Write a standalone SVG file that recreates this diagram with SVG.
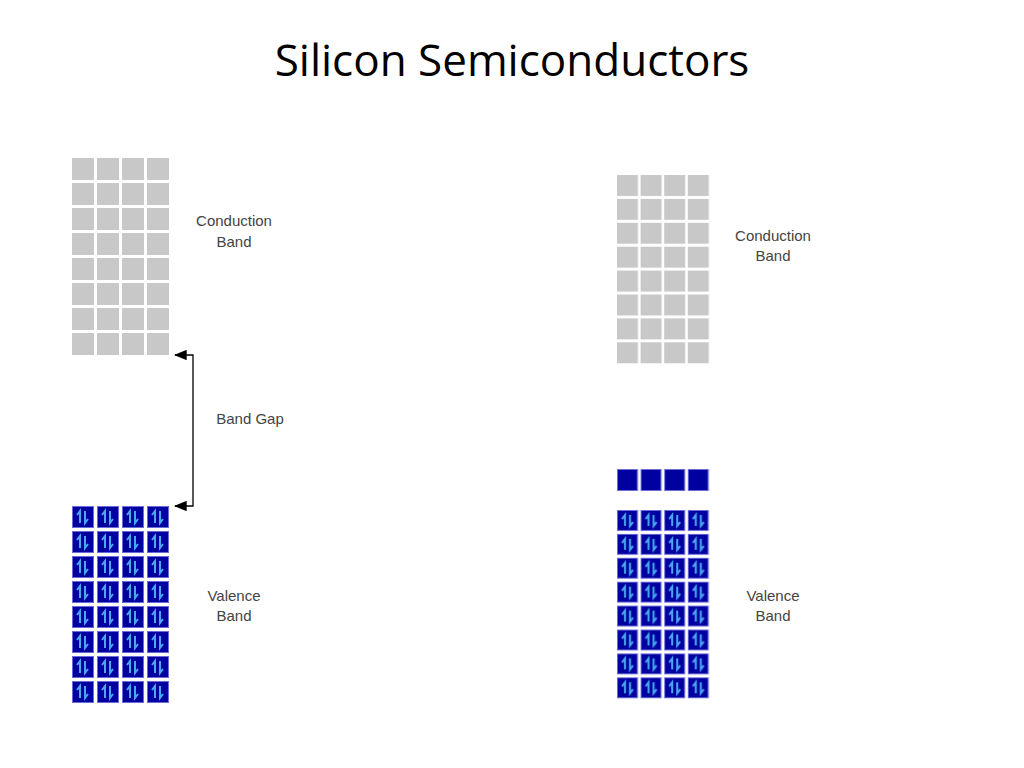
<svg xmlns="http://www.w3.org/2000/svg" xmlns:xlink="http://www.w3.org/1999/xlink" width="1024" height="768" viewBox="0 0 1024 768">
<style>
.t{font-family:"Liberation Sans",Arial,sans-serif;font-size:15px;fill:#444;text-anchor:middle}
.title{font-family:"Open Sans","Liberation Sans",sans-serif;font-size:44px;fill:#000;text-anchor:middle}
</style>
<defs>
<pattern id="gL" x="72" y="158" width="25" height="25" patternUnits="userSpaceOnUse"><rect x="0" y="0" width="22" height="22" fill="#c8c8c8"/></pattern>
<pattern id="gR" x="617" y="175" width="23.6" height="23.9" patternUnits="userSpaceOnUse"><rect x="0" y="0" width="21" height="21" fill="#c8c8c8"/></pattern>
<pattern id="vL" x="72" y="506" width="25" height="25" patternUnits="userSpaceOnUse"><rect x="0.5" y="0.5" width="21" height="21" fill="#0000a0" stroke="#6a6ad8"/><path d="M8,17V5L5,9M13,5V17L16,13" fill="none" stroke="#4aa8f0" stroke-width="2"/></pattern>
<pattern id="vR" x="617" y="510" width="23.6" height="23.9" patternUnits="userSpaceOnUse"><rect x="0.5" y="0.5" width="20" height="20" fill="#0000a0" stroke="#6a6ad8"/><path d="M8,16V5L5,9M13,5V16L16,12" fill="none" stroke="#4aa8f0" stroke-width="2"/></pattern>
<pattern id="eR" x="617" y="469" width="23.6" height="30" patternUnits="userSpaceOnUse"><rect x="0.5" y="0.5" width="20" height="21" fill="#0000a0" stroke="#6a6ad8"/></pattern>
<marker id="ah" markerWidth="10" markerHeight="8" refX="9" refY="4" orient="auto"><path d="M0,0L10,4L0,8z" fill="#000"/></marker>
</defs>
<text class="title" x="512" y="76">Silicon Semiconductors</text>
<g id="leftConduction"><rect x="72" y="158" width="97" height="197" fill="url(#gL)"/><text class="t" x="234" y="226">Conduction</text><text class="t" x="234" y="247">Band</text></g>
<g id="leftValence"><rect x="72" y="506" width="97" height="197" fill="url(#vL)"/><text class="t" x="234" y="601">Valence</text><text class="t" x="234" y="621">Band</text></g>
<g id="rightConduction"><rect x="617" y="175" width="94" height="190" fill="url(#gR)"/><text class="t" x="773" y="241">Conduction</text><text class="t" x="773" y="261">Band</text></g>
<g id="rightElectrons"><rect x="617" y="469" width="94" height="22" fill="url(#eR)"/></g>
<g id="rightValence"><rect x="617" y="510" width="94" height="190" fill="url(#vR)"/><text class="t" x="773" y="601">Valence</text><text class="t" x="773" y="621">Band</text></g>
<g id="connectors" fill="none" stroke="#000" stroke-width="1.3">
<path d="M193,430V355H175" marker-end="url(#ah)"/>
<path d="M193,430V506H175" marker-end="url(#ah)"/>
</g>
<text class="t" x="250" y="424">Band Gap</text>
</svg>
